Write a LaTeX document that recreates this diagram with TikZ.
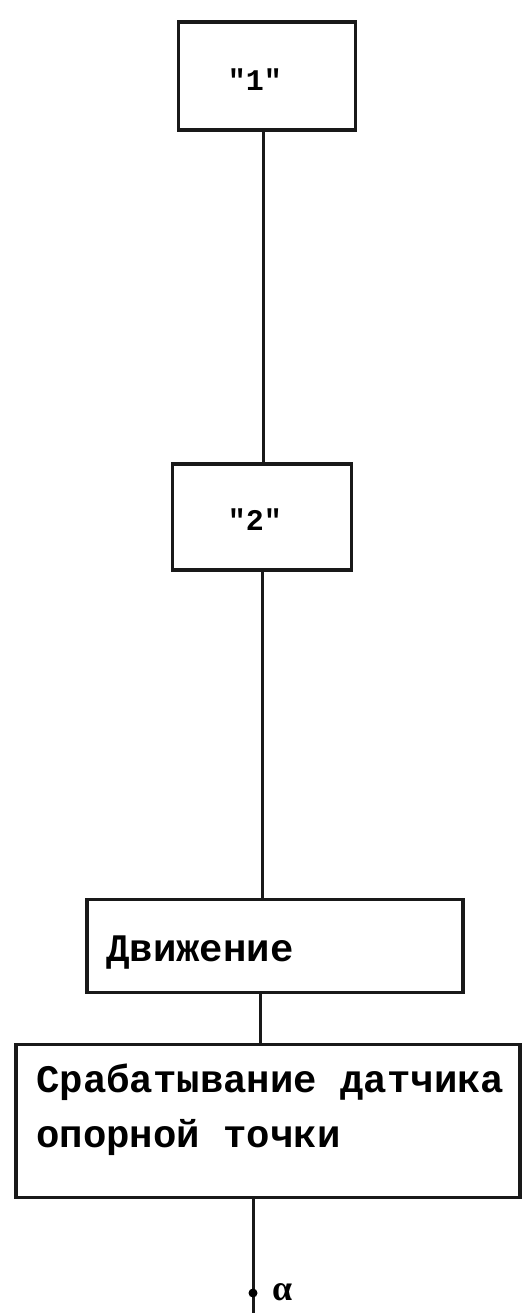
\documentclass[tikz,border=0pt]{standalone}
\usepackage{fontspec}
\setmainfont{Liberation Serif}
\newfontfamily\typew{Liberation Mono}
\begin{document}
\begin{tikzpicture}[x=1pt,y=-1pt,
  box/.style={draw=black!90, line width=3.5pt, rectangle, inner sep=0pt},
  conn/.style={draw=black!90, line width=3pt},
  txt/.style={font=\typew\bfseries\fontsize{39}{39}\selectfont, anchor=base west, inner sep=0pt},
  qtxt/.style={font=\typew\bfseries\fontsize{30}{30}\selectfont, inner sep=0pt}]
\useasboundingbox (0,0) rectangle (529,1313);
\node[box, minimum width=177pt, minimum height=108pt] (b1) at (267,76) {};
\node[box, minimum width=179pt, minimum height=106pt] (b2) at (262,517) {};
\node[box, minimum width=376pt, minimum height=93pt] (b3) at (275,946) {};
\node[box, minimum width=504pt, minimum height=153pt] (b4) at (268,1121) {};
\node[qtxt] (t1) at (255,80) {"1"};
\node[qtxt] (t2) at (255,520) {"2"};
\node[txt] (t3) at (106,961) {Движение};
\node[txt] (t4a) at (36,1092) {Срабатывание датчика};
\node[txt] (t4b) at (36,1147) {опорной точки};
\coordinate (e) at (253,1313);
\coordinate (d) at (253,1293);
\draw[conn] (b1.south -| 263,0) -- (b2.north -| 263,0);
\draw[conn] (b2.south -| 262,0) -- (b3.north -| 262,0);
\draw[conn] (b3.south -| 260,0) -- (b4.north -| 260,0);
\draw[conn] (b4.south -| 253,0) -- (e);
\fill (d) circle (4.5pt);
\node[font=\bfseries\fontsize{36}{36}\selectfont, anchor=base west, inner sep=0pt] (la) at (272,1300) {α};
\end{tikzpicture}
\end{document}
